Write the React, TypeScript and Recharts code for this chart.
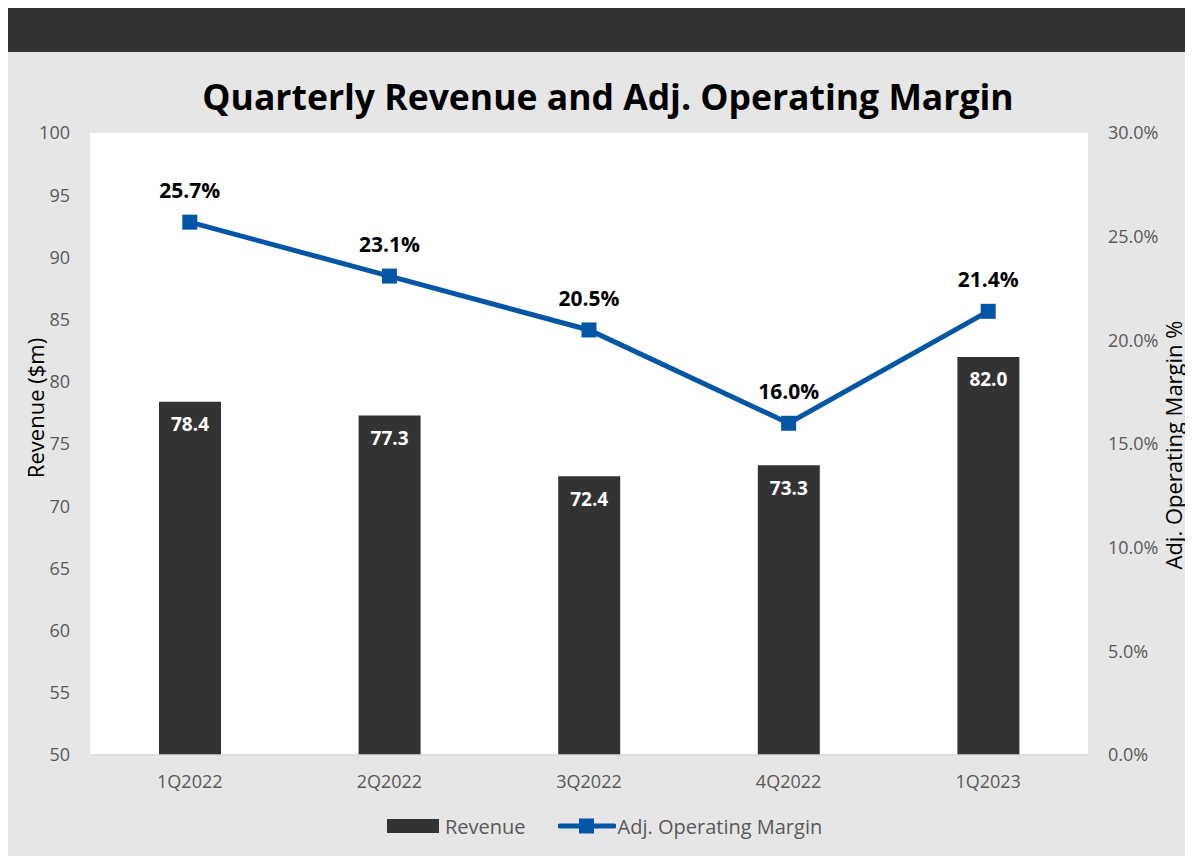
import { Bar, CartesianGrid, ComposedChart, LabelList, Line, XAxis, YAxis } from 'recharts'

const quarters = ['1Q2022', '2Q2022', '3Q2022', '4Q2022', '1Q2023']
const revenue = [78.4, 77.3, 72.4, 73.3, 82.0]
const margin = [25.7, 23.1, 20.5, 16.0, 21.4]
const revenueTicks = [50, 55, 60, 65, 70, 75, 80, 85, 90, 95, 100]
const marginTicks = [0, 5, 10, 15, 20, 25, 30]

const data = quarters.map((q, i) => ({ quarter: q, revenue: revenue[i], margin: margin[i] }))

const font = '"Open Sans", sans-serif'
const barColor = '#333333'
const lineColor = '#0356a6'
const tickStyle = { fill: '#595959', fontSize: 18, fontFamily: font }

function SquareDot(props: any) {
  const { cx, cy } = props
  if (cx == null || cy == null) return null
  return <rect x={cx - 7.5} y={cy - 7.5} width={15} height={15} fill={lineColor} />
}

function AxisTitle({ x, y, text }: { x: number; y: number; text: string }) {
  return (
    <text
      x={x}
      y={y}
      transform={`rotate(-90 ${x} ${y})`}
      textAnchor="middle"
      dominantBaseline="central"
      fill="#000"
      fontSize={22}
      fontFamily={font}
    >
      {text}
    </text>
  )
}

export default function App() {
  return (
    <div style={{ position: 'relative', width: 1185, height: 848, background: '#e6e6e6', fontFamily: font }}>
      <style>{'html, body { overflow: hidden; }'}</style>
      <div style={{ height: 44, background: '#333333' }} />
      <div
        style={{
          position: 'absolute',
          top: 64,
          left: 0,
          width: 1200,
          textAlign: 'center',
          fontSize: 35.5,
          fontWeight: 700,
          color: '#000',
        }}
      >
        Quarterly Revenue and Adj. Operating Margin
      </div>
      <div style={{ position: 'absolute', top: 44, left: 0 }}>
        <ComposedChart width={1185} height={804} data={data} margin={{ top: 81, right: 35, bottom: 71, left: 32 }}>
          <CartesianGrid horizontal={false} vertical={false} fill="#ffffff" stroke="none" />
          <XAxis
            dataKey="quarter"
            height={30}
            tick={tickStyle}
            tickLine={false}
            tickSize={0}
            tickMargin={20}
            axisLine={{ stroke: '#d9d9d9', strokeWidth: 1.5 }}
          />
          <YAxis
            yAxisId="rev"
            orientation="left"
            width={50}
            domain={[50, 100]}
            ticks={revenueTicks}
            tick={tickStyle}
            axisLine={false}
            tickLine={false}
            tickSize={0}
            tickMargin={20}
            label={{ content: () => <AxisTitle x={27} y={356} text="Revenue ($m)" /> }}
          />
          <YAxis
            yAxisId="mar"
            orientation="right"
            width={70}
            domain={[0, 30]}
            ticks={marginTicks}
            tick={tickStyle}
            tickFormatter={(v: number) => `${v.toFixed(1)}%`}
            axisLine={false}
            tickLine={false}
            tickSize={0}
            tickMargin={20}
            label={{ content: () => <AxisTitle x={1165} y={393} text="Adj. Operating Margin %" /> }}
          />
          <Bar yAxisId="rev" dataKey="revenue" fill={barColor} barSize={62} isAnimationActive={false}>
            <LabelList
              dataKey="revenue"
              position="insideTop"
              offset={16}
              formatter={(v: any) => Number(v).toFixed(1)}
              style={{ fill: '#ffffff', fontSize: 19, fontWeight: 700, fontFamily: font }}
            />
          </Bar>
          <Line
            yAxisId="mar"
            dataKey="margin"
            stroke={lineColor}
            strokeWidth={5}
            dot={<SquareDot />}
            activeDot={false}
            isAnimationActive={false}
          >
            <LabelList
              dataKey="margin"
              position="top"
              offset={24}
              formatter={(v: any) => `${Number(v).toFixed(1)}%`}
              style={{ fill: '#000000', fontSize: 21, fontWeight: 700, fontFamily: font }}
            />
          </Line>
        </ComposedChart>
      </div>
      <div
        style={{
          position: 'absolute',
          top: 803,
          left: 379,
          display: 'flex',
          alignItems: 'center',
          fontSize: 20,
          color: '#595959',
          height: 30,
        }}
      >
        <div style={{ width: 52, height: 14, background: barColor, marginRight: 6 }} />
        <span>Revenue</span>
        <svg width={58} height={16} style={{ marginLeft: 32, marginRight: 2 }}>
          <line x1={2} y1={8} x2={56} y2={8} stroke={lineColor} strokeWidth={5} strokeLinecap="round" />
          <rect x={21} y={0.5} width={15} height={15} fill={lineColor} />
        </svg>
        <span>Adj. Operating Margin</span>
      </div>
    </div>
  )
}
